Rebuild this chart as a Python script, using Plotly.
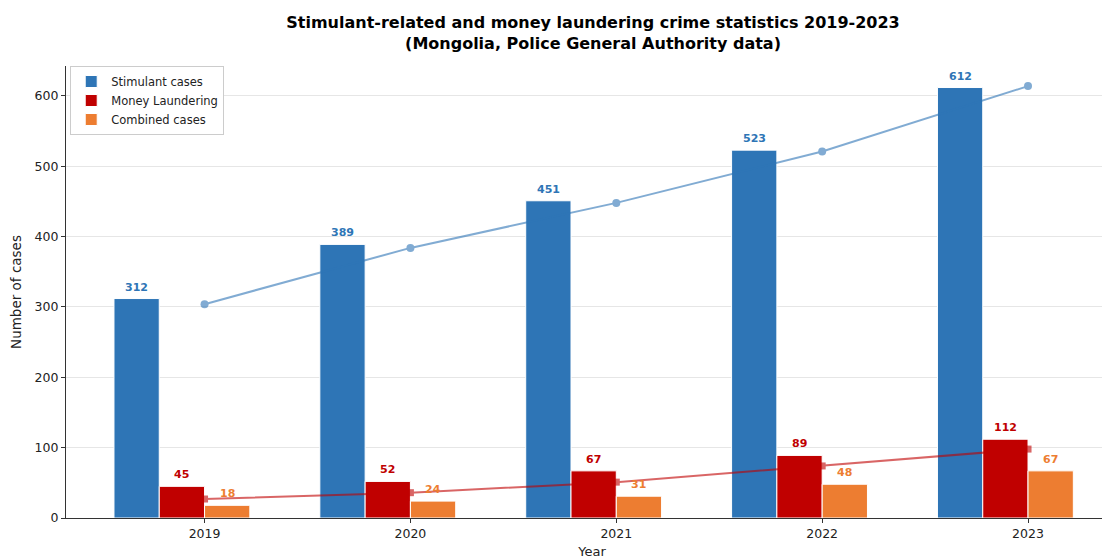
import plotly.graph_objects as go

years = ["2019", "2020", "2021", "2022", "2023"]
stimulant = [312, 389, 451, 523, 612]
laundering = [45, 52, 67, 89, 112]
combined = [18, 24, 31, 48, 67]
stim_trend = [304, 384, 448, 521, 614]
laund_trend = [27, 36, 51, 74, 98]

BLUE = "#2E75B6"
RED = "#C00000"
ORANGE = "#ED7D31"
FONT = "DejaVu Sans"

pos = list(range(len(years)))
W = 0.22
series = [
    ("Stimulant cases", stimulant, BLUE, -2 * W),
    ("Money Laundering", laundering, RED, -W),
    ("Combined cases", combined, ORANGE, 0.0),
]

fig = go.Figure()
for name, vals, color, off in series:
    fig.add_trace(go.Bar(
        x=pos, y=vals, name=name, width=W, offset=off,
        marker=dict(color=color, line=dict(color="white", width=1)),
    ))

fig.add_trace(go.Scatter(
    x=pos, y=stim_trend, mode="lines+markers", showlegend=False,
    line=dict(color=BLUE, width=2), marker=dict(symbol="circle", size=8, color=BLUE),
    opacity=0.6, hoverinfo="skip",
))
fig.add_trace(go.Scatter(
    x=pos, y=laund_trend, mode="lines+markers", showlegend=False,
    line=dict(color=RED, width=2), marker=dict(symbol="square", size=7, color=RED),
    opacity=0.6, hoverinfo="skip",
))

annotations = []
for name, vals, color, off in series:
    for p, v in zip(pos, vals):
        annotations.append(dict(
            x=p + off + W / 2, y=v, xref="x", yref="y", text=f"<b>{v}</b>",
            showarrow=False, yanchor="bottom", yshift=3,
            font=dict(family=FONT, size=11, color=color),
        ))

fig.update_layout(
    width=1110, height=557,
    margin=dict(l=58, r=0, t=58, b=47),
    plot_bgcolor="white", paper_bgcolor="white",
    font=dict(family=FONT, size=12, color="#222"),
    barmode="overlay",
    title=dict(
        text="<b>Stimulant-related and money laundering crime statistics 2019-2023<br>(Mongolia, Police General Authority data)</b>",
        x=585 / 1110, xref="container", xanchor="center",
        y=1 - 20 / 557, yref="container", yanchor="top",
        font=dict(family=FONT, size=16, color="black"),
    ),
    legend=dict(
        x=0.004, y=1.0, xanchor="left", yanchor="top",
        bgcolor="white", bordercolor="#cccccc", borderwidth=1,
        tracegroupgap=0, itemwidth=30,
        font=dict(family=FONT, size=11.5, color="#222"),
    ),
    annotations=annotations,
    xaxis=dict(
        range=[-0.673, 4.437], tickmode="array", tickvals=pos, ticktext=years,
        showgrid=False, zeroline=False, showline=True, linecolor="#333", linewidth=1.2,
        ticks="outside", ticklen=4, tickcolor="#333",
        tickfont=dict(family=FONT, size=12.5, color="#222"),
        title=dict(text="Year", standoff=6, font=dict(family=FONT, size=13, color="#222")),
    ),
    yaxis=dict(
        range=[0, 642.6], tickvals=[0, 100, 200, 300, 400, 500, 600],
        showgrid=True, gridcolor="#e6e6e6", gridwidth=1, zeroline=False,
        showline=True, linecolor="#333", linewidth=1.2,
        ticks="outside", ticklen=4, tickcolor="#333",
        tickfont=dict(family=FONT, size=12.5, color="#222"),
        title=dict(text="Number of cases", standoff=10, font=dict(family=FONT, size=13.5, color="#222")),
    ),
)

fig.write_html("out.html")
